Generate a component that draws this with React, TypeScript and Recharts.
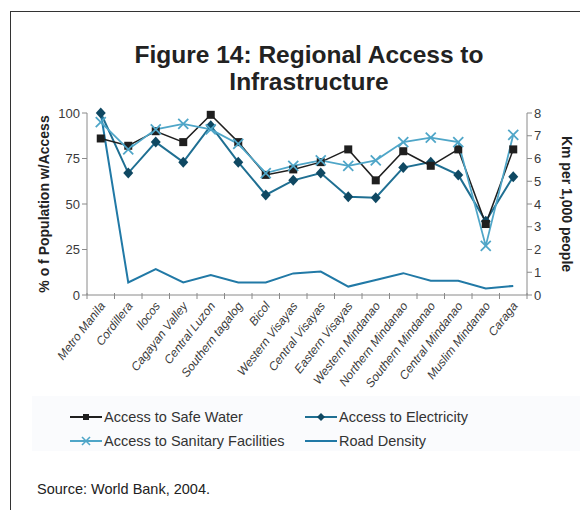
import { LineChart, Line, XAxis, YAxis } from 'recharts';

// Regions along the x axis
const regions = [
  'Metro Manila', 'Cordillera', 'Ilocos', 'Cagayan Valley', 'Central Luzon',
  'Southern tagalog', 'Bicol', 'Western Visayas', 'Central Visayas', 'Eastern Visayas',
  'Western Mindanao', 'Northern Mindanao', 'Southern Mindanao', 'Central Mindanao',
  'Muslim Mindanao', 'Caraga',
];

// % of population with access (left axis)
const safeWater = [86, 82, 90, 84, 99, 84, 66, 69, 73, 80, 63, 79, 71, 80, 39, 80];
const electricity = [100, 67, 84, 73, 93, 73, 55, 63, 67, 54, 53.5, 70, 73, 66, 40.5, 65];
const sanitary = [95, 80, 91, 94, 91, 83, 67, 71, 74, 71, 74, 84, 86.5, 84, 27, 88];

// km of road per 1,000 people (right axis)
const roadDensity = [8, 0.55, 1.14, 0.55, 0.88, 0.55, 0.55, 0.95, 1.03, 0.37, 0.66, 0.96, 0.63, 0.63, 0.29, 0.4];

const leftTicks = [0, 25, 50, 75, 100];
const rightTicks = [0, 1, 2, 3, 4, 5, 6, 7, 8];

const data = regions.map((region, i) => ({
  region,
  water: safeWater[i],
  electricity: electricity[i],
  sanitary: sanitary[i],
  road: roadDensity[i],
}));

const COLORS = {
  water: '#1f1f1f',
  electricity: '#1f6f92',
  electricityDot: '#0f4862',
  sanitary: '#4fa6c8',
  road: '#2179a6',
  axis: '#8a8a8a',
  text: '#3a3a3a',
};

const FONT = 'Arial, "Liberation Sans", sans-serif';
const PLOT_W = 440;
const BAND = PLOT_W / regions.length;

const SquareDot = ({ cx, cy }: any) => (
  <rect x={cx - 4} y={cy - 4} width={8} height={8} fill={COLORS.water} />
);

const DiamondDot = ({ cx, cy }: any) => (
  <polygon
    points={`${cx},${cy - 5.5} ${cx + 5},${cy} ${cx},${cy + 5.5} ${cx - 5},${cy}`}
    fill={COLORS.electricityDot}
  />
);

const CrossDot = ({ cx, cy }: any) => (
  <g stroke={COLORS.sanitary} strokeWidth={1.8}>
    <line x1={cx - 5} y1={cy - 5} x2={cx + 5} y2={cy + 5} />
    <line x1={cx - 5} y1={cy + 5} x2={cx + 5} y2={cy - 5} />
  </g>
);

const RegionTick = ({ x, payload, index }: any) => {
  const half = BAND / 2;
  const ay = 295;
  const tx = x + 5;
  const ty = ay + 11;
  return (
    <g>
      <line x1={x - half} x2={x - half} y1={ay - 2} y2={ay + 4} stroke={COLORS.axis} />
      {index === regions.length - 1 && (
        <line x1={x + half} x2={x + half} y1={ay - 2} y2={ay + 4} stroke={COLORS.axis} />
      )}
      <text
        x={tx}
        y={ty}
        textAnchor="end"
        fontSize={12}
        fontStyle="italic"
        fill={COLORS.text}
        fontFamily={FONT}
        transform={`rotate(-52, ${tx}, ${ty})`}
      >
        {payload.value}
      </text>
    </g>
  );
};

const legendItems = [
  { label: 'Access to Safe Water', color: COLORS.water, mark: 'square' },
  { label: 'Access to Electricity', color: COLORS.electricity, mark: 'diamond' },
  { label: 'Access to Sanitary Facilities', color: COLORS.sanitary, mark: 'cross' },
  { label: 'Road Density', color: COLORS.road, mark: 'none' },
];

const LegendMark = ({ color, mark }: { color: string; mark: string }) => (
  <svg width={32} height={12} style={{ display: 'block' }}>
    <line x1={0} x2={32} y1={6} y2={6} stroke={color} strokeWidth={2} />
    {mark === 'square' && <rect x={13} y={3} width={6} height={6} fill={color} />}
    {mark === 'diamond' && <polygon points="16,2 20,6 16,10 12,6" fill={COLORS.electricityDot} />}
    {mark === 'cross' && (
      <g stroke={color} strokeWidth={1.6}>
        <line x1={12} y1={2} x2={20} y2={10} />
        <line x1={12} y1={10} x2={20} y2={2} />
      </g>
    )}
  </svg>
);

export default function App() {
  return (
    <div
      style={{
        position: 'absolute',
        left: 0,
        top: 0,
        width: 580,
        height: 510,
        background: '#fff',
        fontFamily: FONT,
        overflow: 'hidden',
      }}
    >
      {/* frame */}
      <div
        style={{
          position: 'absolute',
          left: 10,
          top: 11,
          width: 600,
          height: 520,
          borderLeft: '1px solid #333',
          borderTop: '1px solid #333',
        }}
      />
      {/* faint band behind the legend */}
      <div style={{ position: 'absolute', left: 32, top: 396, width: 548, height: 55, background: '#fafbfd' }} />

      <div
        style={{
          position: 'absolute',
          left: 0,
          top: 41,
          width: 618,
          textAlign: 'center',
          fontSize: 24.5,
          fontWeight: 'bold',
          lineHeight: '27px',
          color: '#222',
        }}
      >
        Figure 14: Regional Access to
        <br />
        Infrastructure
      </div>

      <div style={{ position: 'absolute', left: 0, top: 0 }}>
        <LineChart width={580} height={400} data={data} margin={{ top: 113, right: 13, bottom: 5, left: 47 }}>
          <XAxis
            dataKey="region"
            scale="band"
            height={100}
            interval={0}
            tickLine={false}
            axisLine={{ stroke: COLORS.axis }}
            tick={<RegionTick />}
          />
          <XAxis xAxisId="top" orientation="top" dataKey="region" scale="band" height={0} tick={false} tickLine={false} axisLine={{ stroke: COLORS.axis }} />
          <YAxis
            yAxisId="left"
            width={40}
            domain={[0, 100]}
            ticks={leftTicks}
            interval={0}
            tickSize={5}
            tickLine={{ stroke: COLORS.axis }}
            axisLine={{ stroke: COLORS.axis }}
            tick={{ fontSize: 13, fill: COLORS.text, fontFamily: FONT }}
            label={{
              value: '% o f Population w/Access',
              angle: -90,
              position: 'center',
              dx: -23,
              style: { fontSize: 14, fontWeight: 'bold', fill: '#222', fontFamily: FONT },
            }}
          />
          <YAxis
            yAxisId="right"
            orientation="right"
            width={40}
            domain={[0, 8]}
            ticks={rightTicks}
            interval={0}
            tickSize={5}
            tickLine={{ stroke: COLORS.axis }}
            axisLine={{ stroke: COLORS.axis }}
            tick={{ fontSize: 13, fill: COLORS.text, fontFamily: FONT }}
            label={{
              value: 'Km per 1,000 people',
              angle: 90,
              position: 'center',
              dx: 20,
              style: { fontSize: 14, fontWeight: 'bold', fill: '#222', fontFamily: FONT },
            }}
          />
          <Line yAxisId="right" dataKey="road" stroke={COLORS.road} strokeWidth={2} dot={false} isAnimationActive={false} />
          <Line yAxisId="left" dataKey="electricity" stroke={COLORS.electricity} strokeWidth={2} dot={<DiamondDot />} isAnimationActive={false} />
          <Line yAxisId="left" dataKey="water" stroke={COLORS.water} strokeWidth={1.5} dot={<SquareDot />} isAnimationActive={false} />
          <Line yAxisId="left" dataKey="sanitary" stroke={COLORS.sanitary} strokeWidth={1.8} dot={<CrossDot />} isAnimationActive={false} />
        </LineChart>
      </div>

      {/* legend */}
      <div
        style={{
          position: 'absolute',
          left: 70,
          top: 408,
          display: 'grid',
          gridTemplateColumns: '235px 240px',
          rowGap: 6,
          fontSize: 14.5,
          color: '#333',
        }}
      >
        {legendItems.map((item) => (
          <div key={item.label} style={{ display: 'flex', alignItems: 'center', height: 18 }}>
            <LegendMark color={item.color} mark={item.mark} />
            <span style={{ marginLeft: 2 }}>{item.label}</span>
          </div>
        ))}
      </div>

      <div style={{ position: 'absolute', left: 37, top: 481, fontSize: 14.5, color: '#222' }}>
        Source: World Bank, 2004.
      </div>
    </div>
  );
}
